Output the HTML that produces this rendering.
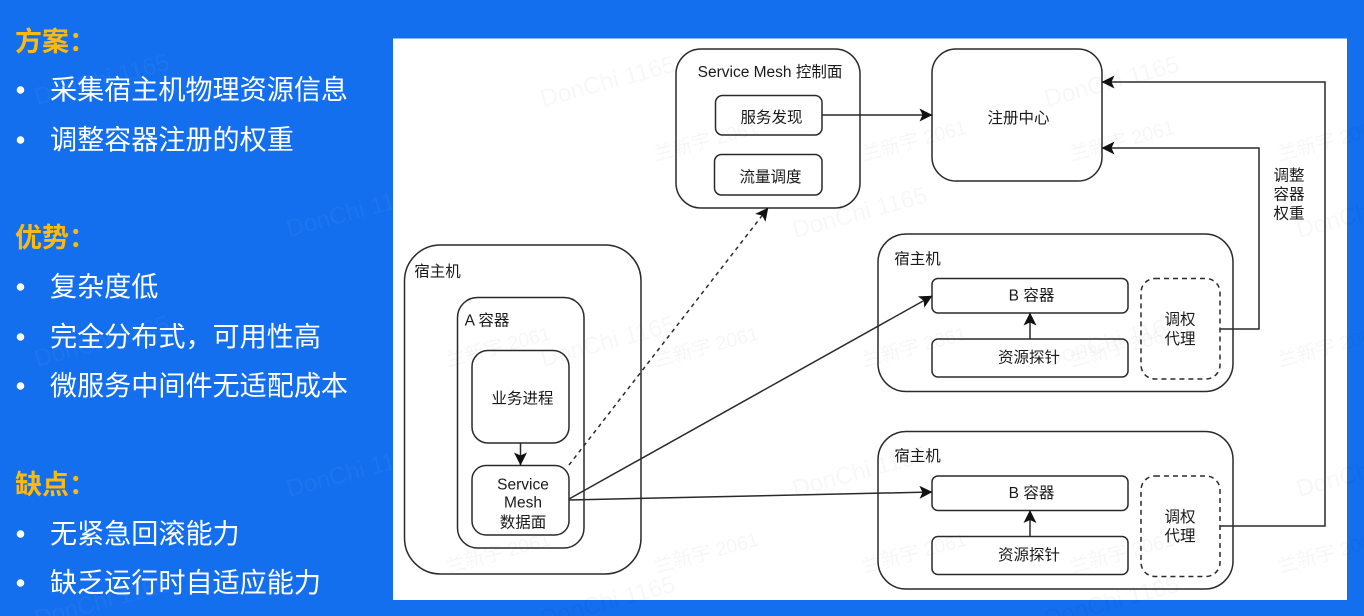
<!DOCTYPE html>
<html><head><meta charset="utf-8">
<style>
html,body{margin:0;padding:0;width:1364px;height:616px;overflow:hidden;background:#136fee}
svg{display:block}
text{font-family:"Liberation Sans","Noto Sans CJK SC",sans-serif}
.l{font-size:27.1px;fill:#fff}
.h{font-size:27px;font-weight:700;fill:#fdb90f}
.t{font-size:15.5px;fill:#1a1a1a;text-anchor:middle}
.s{fill:none;stroke:#2a2a2a;stroke-width:1.5}
.c{fill:none;stroke:#2a2a2a;stroke-width:1.5}
.w1{font-size:24px;fill:#000;opacity:.028}
.w2{font-size:19.5px;fill:#000;opacity:.032}
.wb1{font-size:24px;fill:#fff;opacity:.04}
</style></head><body>
<svg width="1364" height="616" viewBox="0 0 1364 616" xmlns="http://www.w3.org/2000/svg">
<defs>
<marker id="a" viewBox="0 0 13 13" refX="12.500" refY="6.500" markerWidth="13" markerHeight="13" markerUnits="userSpaceOnUse" orient="auto"><path d="M0 0L13 6.500L0 13L3 6.500Z" fill="#111"/></marker>
</defs>
<rect width="1364" height="616" fill="#136fee"/>
<rect x="393" y="38.500" width="954" height="561.500" fill="#fff"/>

<!-- watermarks on blue -->
<text class="wb1" transform="translate(37,105) rotate(-15)">DonChi 1165</text>
<text class="wb1" transform="translate(289,237) rotate(-15)">DonChi 1165</text>
<text class="wb1" transform="translate(37,367) rotate(-15)">DonChi 1165</text>
<text class="wb1" transform="translate(289,497) rotate(-15)">DonChi 1165</text>
<text class="wb1" transform="translate(37,627) rotate(-15)">DonChi 1165</text>
<!-- watermarks on white -->
<text class="w1" transform="translate(543,107) rotate(-15)">DonChi 1165</text>
<text class="w1" transform="translate(1047,107) rotate(-15)">DonChi 1165</text>
<text class="w1" transform="translate(795,238) rotate(-15)">DonChi 1165</text>
<text class="w1" transform="translate(1299,238) rotate(-15)">DonChi 1165</text>
<text class="w1" transform="translate(543,367) rotate(-15)">DonChi 1165</text>
<text class="w1" transform="translate(1047,367) rotate(-15)">DonChi 1165</text>
<text class="w1" transform="translate(795,497) rotate(-15)">DonChi 1165</text>
<text class="w1" transform="translate(1299,497) rotate(-15)">DonChi 1165</text>
<text class="w1" transform="translate(543,627) rotate(-15)">DonChi 1165</text>
<text class="w1" transform="translate(1047,627) rotate(-15)">DonChi 1165</text>
<text class="w2" transform="translate(656,161) rotate(-15)">兰新宇 2061</text>
<text class="w2" transform="translate(864,161) rotate(-15)">兰新宇 2061</text>
<text class="w2" transform="translate(1072,161) rotate(-15)">兰新宇 2061</text>
<text class="w2" transform="translate(1280,161) rotate(-15)">兰新宇 2061</text>
<text class="w2" transform="translate(448,367) rotate(-15)">兰新宇 2061</text>
<text class="w2" transform="translate(656,367) rotate(-15)">兰新宇 2061</text>
<text class="w2" transform="translate(864,367) rotate(-15)">兰新宇 2061</text>
<text class="w2" transform="translate(1072,367) rotate(-15)">兰新宇 2061</text>
<text class="w2" transform="translate(1280,367) rotate(-15)">兰新宇 2061</text>
<text class="w2" transform="translate(448,573) rotate(-15)">兰新宇 2061</text>
<text class="w2" transform="translate(656,573) rotate(-15)">兰新宇 2061</text>
<text class="w2" transform="translate(864,573) rotate(-15)">兰新宇 2061</text>
<text class="w2" transform="translate(1072,573) rotate(-15)">兰新宇 2061</text>
<text class="w2" transform="translate(1280,573) rotate(-15)">兰新宇 2061</text>

<!-- left text -->
<text class="h" x="15" y="51">方案：</text>
<circle cx="20.500" cy="90" r="3.800" fill="#fff"/><text class="l" x="50" y="99">采集宿主机物理资源信息</text>
<circle cx="20.500" cy="140" r="3.800" fill="#fff"/><text class="l" x="50" y="149">调整容器注册的权重</text>
<text class="h" x="15" y="247">优势：</text>
<circle cx="20.500" cy="287" r="3.800" fill="#fff"/><text class="l" x="50" y="296">复杂度低</text>
<circle cx="20.500" cy="337" r="3.800" fill="#fff"/><text class="l" x="50" y="346">完全分布式，可用性高</text>
<circle cx="20.500" cy="386" r="3.800" fill="#fff"/><text class="l" x="50" y="395">微服务中间件无适配成本</text>
<text class="h" x="15" y="494">缺点：</text>
<circle cx="20.500" cy="534" r="3.800" fill="#fff"/><text class="l" x="50" y="543">无紧急回滚能力</text>
<circle cx="20.500" cy="583" r="3.800" fill="#fff"/><text class="l" x="50" y="592">缺乏运行时自适应能力</text>

<!-- shapes -->
<rect class="s" x="404.500" y="245" width="236.500" height="329" rx="36"/>
<rect class="s" x="457.500" y="297.500" width="126.500" height="250.500" rx="20"/>
<rect class="s" x="472" y="350.500" width="97" height="92.500" rx="16"/>
<rect class="s" x="472" y="465.500" width="97" height="69.500" rx="14"/>

<rect class="s" x="676" y="49" width="184" height="159" rx="25"/>
<rect class="s" x="715.500" y="95.500" width="106.500" height="39.500" rx="7"/>
<rect class="s" x="714.500" y="154.500" width="107.500" height="40.500" rx="7"/>
<rect class="s" x="932" y="49" width="170" height="132" rx="24"/>

<rect class="s" x="878" y="234" width="355" height="157.500" rx="28"/>
<rect class="s" x="932" y="278.500" width="196" height="34.500" rx="6"/>
<rect class="s" x="932" y="339" width="196" height="38" rx="6"/>
<rect class="s" x="1141" y="278.500" width="79" height="100.500" rx="14" stroke-dasharray="5 4"/>

<rect class="s" x="878" y="431.500" width="355" height="157.500" rx="28"/>
<rect class="s" x="932" y="476" width="196" height="34.500" rx="6"/>
<rect class="s" x="932" y="536.500" width="196" height="38" rx="6"/>
<rect class="s" x="1141" y="476" width="79" height="100.500" rx="14" stroke-dasharray="5 4"/>

<!-- connectors -->
<path class="c" d="M520.500 443V465" marker-end="url(#a)"/>
<path class="c" d="M569 465L768 208" stroke-dasharray="4 4" marker-end="url(#a)"/>
<path class="c" d="M569 499L932 296" marker-end="url(#a)"/>
<path class="c" d="M569 500L932 492" marker-end="url(#a)"/>
<path class="c" d="M822 115H932" marker-end="url(#a)"/>
<path class="c" d="M1030 339V313" marker-end="url(#a)"/>
<path class="c" d="M1030 536.500V510.500" marker-end="url(#a)"/>
<path class="c" d="M1220 329H1259V148H1102" marker-end="url(#a)"/>
<path class="c" d="M1220 526H1325V82H1102" marker-end="url(#a)"/>

<!-- labels -->
<text class="t" x="437.500" y="276.500">宿主机</text>
<text class="t" x="487" y="325.500">A 容器</text>
<text class="t" x="522.500" y="403.500">业务进程</text>
<text class="t" x="523" y="489.500">Service</text>
<text class="t" x="523" y="507.500">Mesh</text>
<text class="t" x="523" y="527.500">数据面</text>
<text class="t" x="770" y="77">Service Mesh 控制面</text>
<text class="t" x="771.500" y="122.500">服务发现</text>
<text class="t" x="770.500" y="182">流量调度</text>
<text class="t" x="1018.500" y="123">注册中心</text>
<text class="t" x="1289" y="180.500">调整</text>
<text class="t" x="1289" y="199.500">容器</text>
<text class="t" x="1289" y="218.500">权重</text>

<text class="t" x="917.500" y="264">宿主机</text>
<text class="t" x="1031.500" y="300.500">B 容器</text>
<text class="t" x="1029" y="362.500">资源探针</text>
<text class="t" x="1180" y="324.500">调权</text>
<text class="t" x="1180" y="344">代理</text>

<text class="t" x="917.500" y="461">宿主机</text>
<text class="t" x="1031.500" y="498">B 容器</text>
<text class="t" x="1029" y="560">资源探针</text>
<text class="t" x="1180" y="522">调权</text>
<text class="t" x="1180" y="541">代理</text>
</svg>
</body></html>
